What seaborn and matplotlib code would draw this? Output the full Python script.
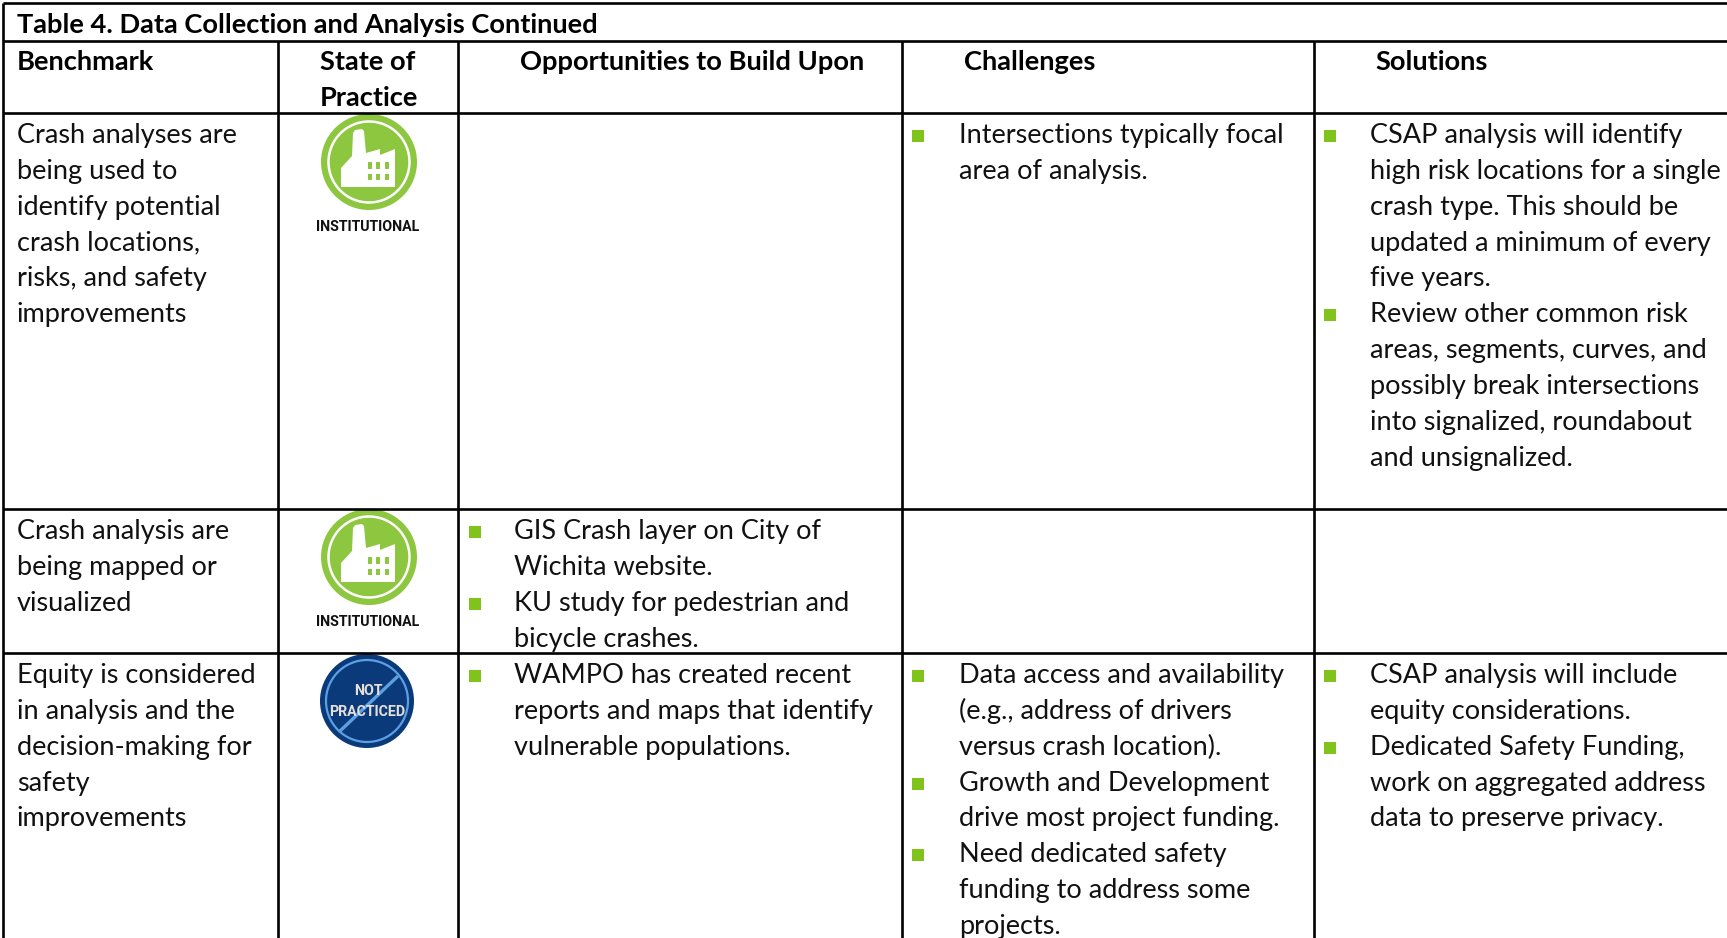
import matplotlib
matplotlib.use("Agg")
import matplotlib.pyplot as plt
import seaborn as sns
import pandas as pd
from matplotlib.patches import Circle, Polygon, Rectangle

title = "Table 4. Data Collection and Analysis Continued"
headers = ["Benchmark", "State of\nPractice", "Opportunities to Build Upon", "Challenges", "Solutions"]

benchmarks = [
    ["Crash analyses are", "being used to", "identify potential", "crash locations,", "risks, and safety", "improvements"],
    ["Crash analysis are", "being mapped or", "visualized"],
    ["Equity is considered", "in analysis and the", "decision-making for", "safety", "improvements"],
]
opportunities = [
    [],
    [["GIS Crash layer on City of", "Wichita website."], ["KU study for pedestrian and", "bicycle crashes."]],
    [["WAMPO has created recent", "reports and maps that identify", "vulnerable populations."]],
]
challenges = [
    [["Intersections typically focal", "area of analysis."]],
    [],
    [["Data access and availability", "(e.g., address of drivers", "versus crash location)."],
     ["Growth and Development", "drive most project funding."],
     ["Need dedicated safety", "funding to address some", "projects."]],
]
solutions = [
    [["CSAP analysis will identify", "high risk locations for a single", "crash type. This should be", "updated a minimum of every", "five years."],
     ["Review other common risk", "areas, segments, curves, and", "possibly break intersections", "into signalized, roundabout", "and unsignalized."]],
    [],
    [["CSAP analysis will include", "equity considerations."],
     ["Dedicated Safety Funding,", "work on aggregated address", "data to preserve privacy."]],
]

W, H = 1727, 938
LINE = 35.85
row_base = [143, 539, 683]
FS = 19.5
FS_BOLD = 19.6

sns.set_theme(style="white")
plt.rcParams["font.family"] = ["Lato", "DejaVu Sans"]

fig = plt.figure(figsize=(W / 100, H / 100), dpi=100)
ax = fig.add_axes([0, 0, 1, 1])

# grid lines
lw = 1.9
ax.hlines([3, 41, 113, 509, 653], 3, W, color="black", lw=lw)
ax.vlines(3, 3, H, color="black", lw=lw)
ax.vlines([278, 458, 902, 1314], 41, H, color="black", lw=lw)

# headers
ax.text(17, 33, title, fontsize=FS_BOLD, fontweight="bold", color="black")
ax.text(17, 70, headers[0], fontsize=FS_BOLD, fontweight="bold", color="black")
ax.text(320, 70, "State of", fontsize=FS_BOLD, fontweight="bold", color="black")
ax.text(320, 106, "Practice", fontsize=FS_BOLD, fontweight="bold", color="black")
ax.text(520, 70, headers[2], fontsize=FS_BOLD, fontweight="bold", color="black")
ax.text(964, 70, headers[3], fontsize=FS_BOLD, fontweight="bold", color="black")
ax.text(1375, 70, headers[4], fontsize=FS_BOLD, fontweight="bold", color="black")

for base, lines in zip(row_base, benchmarks):
    for i, s in enumerate(lines):
        ax.text(17, base + i * LINE, s, fontsize=FS, color="#111111")

# bulleted columns
bul_x, bul_y = [], []
columns = [(opportunities, 475, 514), (challenges, 918, 959), (solutions, 1330, 1370)]
for col, bx, tx in columns:
    for base, items in zip(row_base, col):
        n = 0
        for item in items:
            bul_x.append(bx)
            bul_y.append(base + n * LINE - 7)
            for s in item:
                ax.text(tx, base + n * LINE, s, fontsize=FS, color="#111111")
                n += 1
bullets = pd.DataFrame({"x": bul_x, "y": bul_y})
sns.scatterplot(data=bullets, x="x", y="y", marker="s", s=87, color="#7FC31C", linewidth=0, ax=ax, legend=False)


def institutional(cx, cy):
    green = "#8DC63F"
    ax.add_patch(Circle((cx, cy), 48, fc=green, ec="none"))
    ax.add_patch(Circle((cx, cy), 40.5, fc="none", ec="white", lw=1.8))
    # factory outline, offsets from the icon centre
    pts = [(-28, 25), (-28, 6), (-17, -6), (-16, -29), (-14, -32), (-7, -33), (-5, -31),
           (-3, -9), (11, -13), (11, -7), (26, -13), (26, 25)]
    ax.add_patch(Polygon([(cx + a, cy + b) for a, b in pts], fc="white", ec="none"))
    for wx in [-1.3, 7.3, 15.7]:
        for wy in [0.3, 11.7]:
            ax.add_patch(Rectangle((cx + wx, cy + wy), 4, 6.3, fc=green, ec="none"))
    ax.text(cx - 1, cy + 65, "INSTITUTIONAL", family="Roboto", fontweight="bold", fontsize=10.2,
            ha="center", va="center", color="#111111")


def not_practiced(cx, cy):
    ax.add_patch(Circle((cx, cy), 47, fc="#0B3A7A", ec="none"))
    ax.add_patch(Circle((cx, cy), 41, fc="none", ec="#5C9FE3", lw=1.6))
    ax.plot([cx - 28, cx + 31], [cy + 31, cy - 25], color="#5C9FE3", lw=2.4, solid_capstyle="butt")
    ax.text(cx + 1, cy - 10, "NOT", family="Roboto", fontweight="bold", fontsize=10.2,
            ha="center", va="center", color="#E6E0D8")
    ax.text(cx + 0.5, cy + 11, "PRACTICED", family="Roboto", fontweight="bold", fontsize=10.2,
            ha="center", va="center", color="#E6E0D8")


institutional(369, 162)
institutional(369, 557)
not_practiced(367, 701)

ax.set_xlim(0, W)
ax.set_ylim(H, 0)
ax.axis("off")

fig.savefig("out.png", dpi=100, facecolor="white")
